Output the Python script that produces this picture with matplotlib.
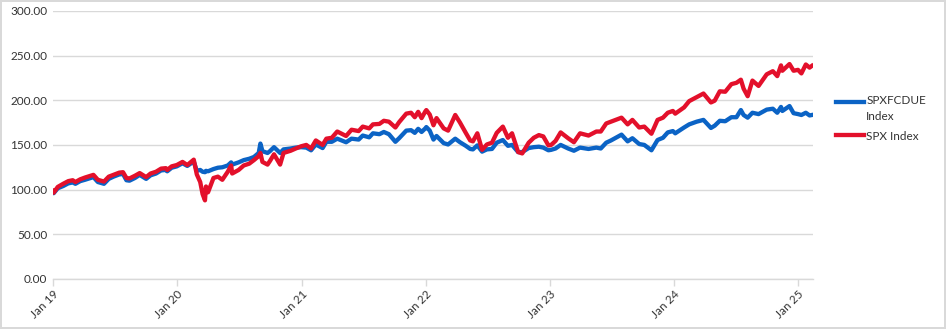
import matplotlib
matplotlib.use("Agg")
from matplotlib import pyplot as plt
import matplotlib.dates as mdates
from matplotlib.ticker import FuncFormatter
import numpy as np

# index levels, rebased to ~100 at the start of 2019
dates = [
    "2019-01-02", "2019-01-03", "2019-01-15", "2019-01-31", "2019-02-15", "2019-02-28",
    "2019-03-08", "2019-03-22", "2019-04-05", "2019-04-30", "2019-05-13", "2019-05-31",
    "2019-06-14", "2019-06-28", "2019-07-15", "2019-07-26", "2019-08-05", "2019-08-14",
    "2019-08-30", "2019-09-13", "2019-10-02", "2019-10-15", "2019-10-31", "2019-11-15",
    "2019-11-29", "2019-12-03", "2019-12-16", "2019-12-31",
    "2020-01-17", "2020-01-31", "2020-02-19", "2020-02-28", "2020-03-09", "2020-03-16",
    "2020-03-23", "2020-03-26", "2020-04-01", "2020-04-17", "2020-04-30", "2020-05-13",
    "2020-05-29", "2020-06-08", "2020-06-11", "2020-06-30", "2020-07-15", "2020-07-31",
    "2020-08-14", "2020-08-28", "2020-09-02", "2020-09-08", "2020-09-23", "2020-09-30",
    "2020-10-12", "2020-10-30", "2020-11-09", "2020-11-30", "2020-12-15", "2020-12-31",
    "2021-01-15", "2021-01-29", "2021-02-12", "2021-03-04", "2021-03-15", "2021-03-31",
    "2021-04-16", "2021-05-12", "2021-05-28", "2021-06-18", "2021-06-30", "2021-07-19",
    "2021-07-30", "2021-08-18", "2021-08-31", "2021-09-15", "2021-10-04", "2021-10-15",
    "2021-11-05", "2021-11-19", "2021-11-30", "2021-12-10", "2021-12-20", "2021-12-31",
    "2022-01-03", "2022-01-13", "2022-01-24", "2022-02-02", "2022-02-23", "2022-03-08",
    "2022-03-29", "2022-04-12", "2022-04-29", "2022-05-12", "2022-05-20", "2022-06-02",
    "2022-06-16", "2022-06-30", "2022-07-15", "2022-07-29", "2022-08-16", "2022-08-31",
    "2022-09-12", "2022-09-30", "2022-10-12", "2022-10-31", "2022-11-15", "2022-11-30",
    "2022-12-13", "2022-12-28",
    "2023-01-05", "2023-01-18", "2023-02-02", "2023-02-24", "2023-03-13", "2023-03-31",
    "2023-04-25", "2023-05-18", "2023-05-31", "2023-06-16", "2023-06-30", "2023-07-31",
    "2023-08-18", "2023-09-01", "2023-09-21", "2023-10-06", "2023-10-27", "2023-11-14",
    "2023-11-30", "2023-12-14", "2023-12-29",
    "2024-01-05", "2024-01-31", "2024-02-15", "2024-03-08", "2024-03-28", "2024-04-19",
    "2024-04-30", "2024-05-15", "2024-05-31", "2024-06-18", "2024-07-03", "2024-07-16",
    "2024-07-24", "2024-08-05", "2024-08-19", "2024-09-06", "2024-09-30", "2024-10-18",
    "2024-10-31", "2024-11-11", "2024-11-15", "2024-12-06", "2024-12-18", "2024-12-31",
    "2025-01-10", "2025-01-23", "2025-02-03", "2025-02-10",
]

spx = [
    99.0, 96.5, 103.0, 106.5, 109.5, 110.5,
    108.5, 111.5, 113.5, 116.5, 111.0, 109.0,
    114.5, 116.5, 119.0, 119.5, 113.0, 112.5,
    115.5, 118.5, 114.0, 118.0, 120.0, 123.5,
    124.0, 122.0, 126.0, 127.5,
    131.0, 127.5, 133.5, 117.0, 108.5, 95.0,
    88.0, 103.5, 97.0, 113.0, 114.5, 111.0,
    120.0, 127.0, 118.0, 122.0, 127.0, 129.0,
    133.0, 137.5, 141.0, 131.0, 128.0, 132.0,
    139.5, 128.0, 141.0, 143.5, 146.0, 148.5,
    150.0, 146.0, 155.0, 150.0, 157.0, 158.0,
    165.0, 160.0, 167.0, 165.5, 170.5, 168.5,
    173.0, 173.5, 177.0, 176.0, 169.5, 175.5,
    185.0, 186.0, 181.0, 187.0, 180.0, 187.5,
    189.0, 184.0, 172.0, 180.0, 168.5, 166.0,
    183.5, 175.0, 163.5, 155.0, 154.0, 163.0,
    144.5, 150.5, 152.5, 163.5, 170.5, 158.0,
    163.0, 142.0, 140.5, 152.5, 158.0, 161.0,
    159.5, 149.5,
    150.0, 154.5, 164.0, 157.5, 153.0, 163.0,
    160.5, 165.0, 165.0, 174.0, 176.0, 180.5,
    173.0, 178.0, 169.5, 170.5, 162.5, 178.0,
    180.5, 186.0, 188.0,
    185.0, 192.0, 199.0, 203.5, 207.5, 197.5,
    199.5, 210.0, 209.5, 218.0, 219.5, 223.0,
    213.0, 204.5, 222.0, 216.0, 229.0, 232.5,
    227.0, 239.0, 233.0, 240.5, 233.0, 234.0,
    230.0, 240.0, 236.5, 238.5,
]

spxfcdue = [
    98.0, 96.0, 101.5, 104.0, 107.0, 108.0,
    106.5, 109.5, 111.0, 114.0, 108.5, 106.5,
    112.0, 114.5, 117.0, 117.5, 110.5, 110.0,
    113.0, 116.5, 112.0, 116.0, 118.0, 121.5,
    122.0, 120.5, 124.5, 126.0,
    129.5, 126.5, 131.5, 121.0, 122.0, 120.0,
    119.5, 121.0, 120.5, 123.0, 124.5, 125.0,
    127.0, 130.5, 128.0, 130.5, 133.0, 134.5,
    136.5, 141.0, 151.5, 143.0, 141.0, 143.0,
    147.5, 141.0, 145.0, 146.0, 147.0, 147.5,
    147.0, 144.0, 150.5, 146.5, 153.5, 153.5,
    157.0, 153.0, 157.0, 156.0, 160.5, 158.5,
    163.0, 162.0, 164.5, 162.0, 153.5, 157.5,
    166.0, 166.5, 163.5, 168.0, 164.5, 168.5,
    170.0, 166.0, 156.0, 160.0, 152.0, 150.5,
    157.0, 153.0, 149.0, 145.5, 145.0, 149.5,
    142.5, 145.0, 145.5, 152.5, 155.5, 149.0,
    150.0, 142.0, 142.0, 146.5, 147.5, 148.0,
    147.0, 144.0,
    144.5, 146.0, 150.0, 146.0, 143.5, 147.0,
    145.5, 147.0, 146.0, 152.5, 155.0, 161.5,
    154.0, 157.5, 151.0, 150.0, 144.0, 155.5,
    158.0, 164.0, 165.5,
    163.0, 169.5, 173.0, 176.0, 178.0, 169.0,
    171.5, 177.0, 176.5, 181.0, 181.0, 189.0,
    183.5, 180.5, 186.0, 184.5, 189.5, 190.5,
    186.0, 192.5, 188.0, 193.5, 185.5, 184.5,
    183.5, 186.0, 183.0, 183.5,
]

yticks = [0, 50, 100, 150, 200, 250, 300]

x = np.array(dates, dtype="datetime64[D]")

textcol = "#333333"
gridcol = "#D9D9D9"
bluecol = "#0B63C5"
redcol = "#E3102B"

plt.rcParams["font.family"] = ["Lato", "DejaVu Sans"]
plt.rcParams["font.size"] = 8.5

fig = plt.figure(figsize=(9.46, 3.29), dpi=100)
fig.patch.set_edgecolor(gridcol)
fig.patch.set_linewidth(1.5)
ax = fig.add_axes([0.056, 0.152, 0.803, 0.815])

ax.plot(x, spxfcdue, color=bluecol, lw=3.1, solid_joinstyle="round", label="SPXFCDUE\nIndex")
ax.plot(x, spx, color=redcol, lw=3.1, solid_joinstyle="round", label="SPX Index")

ax.set_ylim(0, 300)
ax.set_yticks(yticks)
ax.yaxis.set_major_formatter(FuncFormatter(lambda v, p: "%.2f" % v))
ax.set_xlim(np.datetime64("2019-01-01"), np.datetime64("2025-02-12"))
ax.xaxis.set_major_locator(mdates.YearLocator())
ax.xaxis.set_major_formatter(mdates.DateFormatter("%b %y"))

ax.grid(axis="y", color=gridcol, lw=1)
ax.set_axisbelow(True)
for s in ["top", "right", "left"]:
    ax.spines[s].set_visible(False)
ax.spines["bottom"].set_color(gridcol)
ax.spines["bottom"].set_linewidth(1)

ax.tick_params(axis="y", length=0, pad=4, colors=textcol)
ax.tick_params(axis="x", length=5, color=gridcol, width=1, pad=2, colors=textcol)
for lbl in ax.get_xticklabels():
    lbl.set_rotation(45)
    lbl.set_ha("right")
    lbl.set_rotation_mode("anchor")
    lbl.set_color(textcol)

leg = fig.legend(loc="center left", bbox_to_anchor=(0.877, 0.64), frameon=False,
                 handlelength=2.4, handletextpad=0.2, labelspacing=0.7,
                 borderpad=0, fontsize=8.5)
for t in leg.get_texts():
    t.set_color(textcol)
    t.set_linespacing(1.55)
# keep the two-line entry's swatch level with its first line
h = leg.legend_handles[0]
h.set_ydata(np.asarray(h.get_ydata()) + 5.5)

fig.savefig("out.png", dpi=100)
